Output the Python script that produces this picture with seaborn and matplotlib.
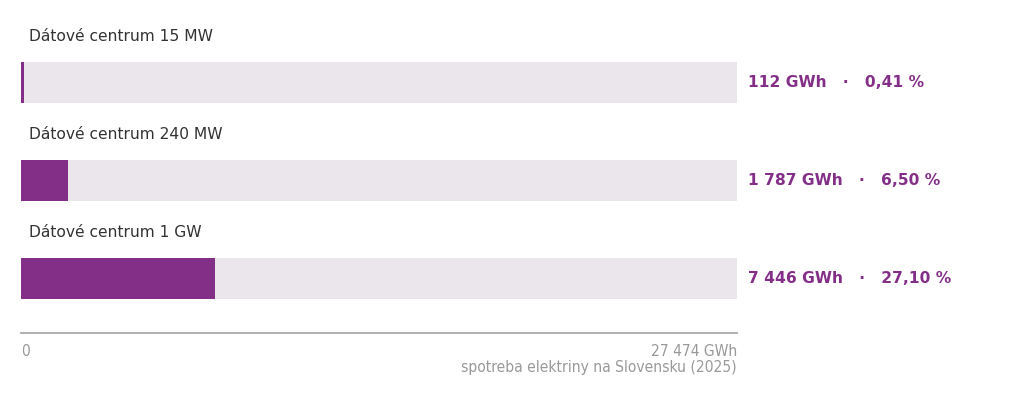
import matplotlib
matplotlib.use("Agg")
import matplotlib.pyplot as plt
import seaborn as sns
import pandas as pd
import matplotlib.transforms as mtransforms

categories = ["Dátové centrum 15 MW", "Dátové centrum 240 MW", "Dátové centrum 1 GW"]
values_gwh = [112, 1787, 7446]
value_labels = ["112 GWh", "1 787 GWh", "7 446 GWh"]
share_labels = ["0,41 %", "6,50 %", "27,10 %"]
total_gwh = 27474
tick_labels = ["0", "27 474 GWh\nspotreba elektriny na Slovensku (2025)"]

PURPLE = "#832f88"
TRACK = "#ebe5ec"

sns.set_theme(style="white")
plt.rcParams['font.family'] = ['DejaVu Sans']

df = pd.DataFrame({"cat": categories, "val": values_gwh, "total": [total_gwh] * len(categories)})

fig = plt.figure(figsize=(10.24, 4.16), dpi=100)
ax = fig.add_axes([21 / 1024, (416 - 333) / 416, (737 - 21) / 1024, 333 / 416])

sns.barplot(data=df, y="cat", x="total", orient="h", color=TRACK, width=0.418,
            saturation=1, ax=ax, order=categories, linewidth=0, edgecolor="none")
sns.barplot(data=df, y="cat", x="val", orient="h", color=PURPLE, width=0.418,
            saturation=1, ax=ax, order=categories, linewidth=0, edgecolor="none")

ax.set_xlim(0, total_gwh)
ax.set_ylim(2.556, -0.842)
ax.set_ylabel("")
ax.set_xlabel("")
ax.set_yticks([])

for s in ["top", "right", "left"]:
    ax.spines[s].set_visible(False)
ax.spines["bottom"].set_color("#aaaaaa")
ax.spines["bottom"].set_linewidth(1.3)

ax.set_xticks([0, total_gwh])
ax.set_xticklabels(tick_labels)
ax.tick_params(axis="x", length=0, pad=8, labelsize=11.2, labelcolor="#999999")
lbls = ax.get_xticklabels()
lbls[0].set_ha("left")
lbls[1].set_ha("right")
lbls[1].set_multialignment("right")
for l in lbls:
    l.set_fontstretch("condensed")
    l.set_va("top")
    l.set_linespacing(1.05)

off = mtransforms.offset_copy(ax.transData, fig=fig, x=8, y=0, units="dots")
for i, cat in enumerate(categories):
    ax.text(0, i - 0.474, cat, transform=off, fontsize=11.2, color="#333333",
            ha="left", va="center")
    ax.annotate(f"{value_labels[i]}   ·   {share_labels[i]}",
                xy=(1, i), xycoords=("axes fraction", "data"),
                xytext=(8, 0), textcoords="offset points",
                fontsize=11.2, fontweight="bold", color=PURPLE,
                ha="left", va="center", annotation_clip=False)

fig.savefig("out.png", dpi=100)
